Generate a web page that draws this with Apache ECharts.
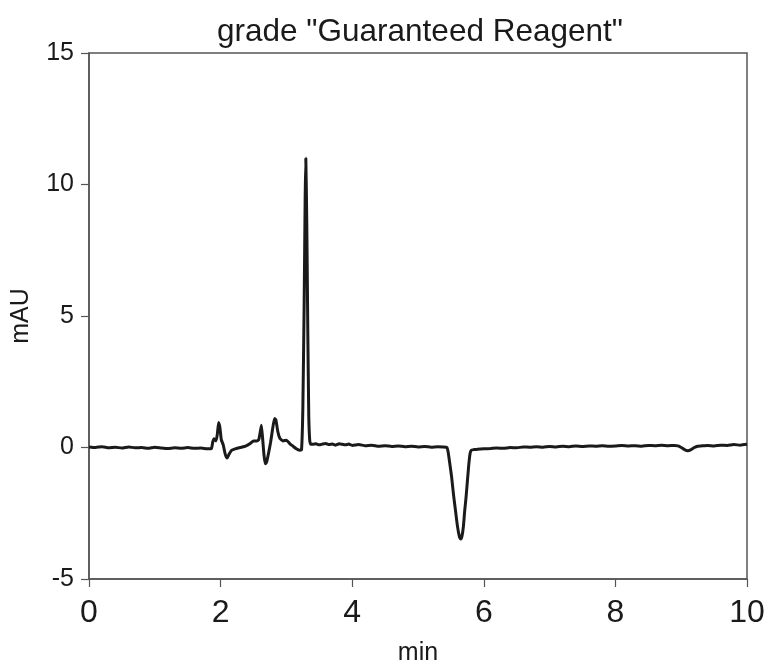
<!DOCTYPE html>
<html>
<head>
<meta charset="utf-8">
<script src="https://cdn.jsdelivr.net/npm/echarts@6/dist/echarts.min.js"></script>
<style>
html,body{margin:0;padding:0;background:#fff;}
#chart{width:769px;height:671px;}
</style>
</head>
<body>
<div id="chart"></div>
<script>
// Retention time (min)
var timeMin = [
  0.00,0.10,0.20,0.30,0.40,0.50,0.60,0.70,0.80,0.90,1.00,1.10,1.20,1.30,1.40,1.50,1.60,1.70,1.80,1.86,
  1.88,1.90,1.93,1.95,1.97,1.99,2.01,2.04,2.07,2.10,2.13,2.17,2.22,2.30,2.38,2.45,2.50,2.55,2.58,2.60,
  2.62,2.64,2.66,2.68,2.70,2.73,2.76,2.79,2.82,2.84,2.87,2.90,2.95,3.00,3.05,3.10,3.15,3.20,3.23,3.25,
  3.27,3.285,3.295,3.31,3.325,3.34,3.355,3.37,3.40,3.45,3.50,3.55,3.60,3.65,3.70,3.75,3.80,3.85,3.90,3.95,
  4.00,4.10,4.20,4.30,4.40,4.50,4.60,4.70,4.80,4.90,5.00,5.10,5.20,5.30,5.38,5.44,5.46,5.48,5.51,5.54,
  5.57,5.60,5.63,5.65,5.67,5.69,5.71,5.73,5.75,5.77,5.79,5.81,5.85,5.90,6.00,6.10,6.20,6.30,6.40,6.50,
  6.60,6.70,6.80,6.90,7.00,7.10,7.20,7.30,7.40,7.50,7.60,7.70,7.80,7.90,8.00,8.10,8.20,8.30,8.40,8.50,
  8.60,8.70,8.80,8.90,8.95,9.00,9.05,9.10,9.15,9.20,9.25,9.30,9.40,9.50,9.60,9.70,9.80,9.90,10.00
];
// Signal (mAU)
var signalMAU = [
  0.02,0.00,0.03,-0.01,0.01,-0.02,0.02,-0.01,0.00,-0.03,0.01,-0.02,-0.04,-0.01,-0.03,0.00,-0.03,-0.02,-0.05,-0.04,
  0.20,0.33,0.25,0.50,0.95,0.75,0.30,0.10,-0.25,-0.40,-0.25,-0.10,-0.05,0.00,0.05,0.15,0.25,0.25,0.30,0.55,
  0.85,0.30,-0.30,-0.62,-0.55,-0.20,0.20,0.70,1.10,1.05,0.60,0.35,0.25,0.28,0.15,0.05,-0.05,-0.10,-0.08,1.50,
  5.50,9.50,11.00,8.50,4.50,1.20,0.25,0.12,0.12,0.14,0.10,0.13,0.15,0.11,0.13,0.09,0.14,0.12,0.10,0.13,
  0.08,0.11,0.07,0.09,0.05,0.07,0.04,0.06,0.03,0.05,0.02,0.04,0.01,0.03,0.02,0.00,-0.20,-0.55,-1.10,-1.80,
  -2.40,-3.00,-3.40,-3.48,-3.35,-3.00,-2.40,-1.90,-1.30,-0.70,-0.25,-0.10,-0.08,-0.07,-0.05,-0.04,-0.02,-0.03,0.00,-0.01,
  0.02,0.01,0.03,0.01,0.04,0.02,0.05,0.03,0.06,0.04,0.06,0.05,0.07,0.05,0.06,0.08,0.06,0.07,0.05,0.08,
  0.07,0.09,0.07,0.08,0.06,0.00,-0.08,-0.12,-0.08,0.00,0.05,0.06,0.08,0.06,0.09,0.08,0.11,0.09,0.12
];
var xTicks = [0, 2, 4, 6, 8, 10];
var yTicks = [-5, 0, 5, 10, 15];
var titleText = 'grade "Guaranteed Reagent"';

var seriesData = timeMin.map(function (t, i) { return [t, signalMAU[i]]; });

var chart = echarts.init(document.getElementById('chart'), null, {renderer: 'canvas'});
var font = 'Liberation Sans, Arial, Helvetica, sans-serif';
chart.setOption({
  animation: false,
  backgroundColor: '#ffffff',
  title: {
    text: titleText,
    left: 415,
    top: 11,
    textAlign: 'center',
    textStyle: {fontFamily: font, fontSize: 31.5, fontWeight: 'normal', color: '#1a1a1a'}
  },
  grid: {
    left: 89, right: 22, top: 53, bottom: 87,
    show: true, borderColor: '#555', borderWidth: 1.5, backgroundColor: 'transparent'
  },
  xAxis: {
    type: 'value',
    min: xTicks[0], max: xTicks[xTicks.length - 1], interval: 2,
    name: 'min', nameLocation: 'middle', nameGap: 62,
    nameTextStyle: {fontFamily: font, fontSize: 25, color: '#1a1a1a'},
    axisLine: {show: true, onZero: false, lineStyle: {color: '#555', width: 1.5}},
    axisTick: {show: true, inside: false, length: 8, lineStyle: {color: '#555', width: 1.2}},
    axisLabel: {fontFamily: font, fontSize: 32, color: '#1a1a1a', margin: 18},
    splitLine: {show: false}
  },
  yAxis: {
    type: 'value',
    min: yTicks[0], max: yTicks[yTicks.length - 1], interval: 5,
    name: 'mAU', nameLocation: 'middle', nameGap: 55, nameRotate: 90,
    nameTextStyle: {fontFamily: font, fontSize: 25, color: '#1a1a1a'},
    axisLine: {show: true, onZero: false, lineStyle: {color: '#555', width: 1.5}},
    axisTick: {show: true, inside: false, length: 8, lineStyle: {color: '#555', width: 1.2}},
    axisLabel: {fontFamily: font, fontSize: 25, color: '#1a1a1a', margin: 15},
    splitLine: {show: false}
  },
  series: [{
    type: 'line',
    data: seriesData,
    showSymbol: false,
    smooth: 0.15,
    lineStyle: {color: '#1a1a1a', width: 3},
    z: 3
  }]
});
</script>
</body>
</html>
